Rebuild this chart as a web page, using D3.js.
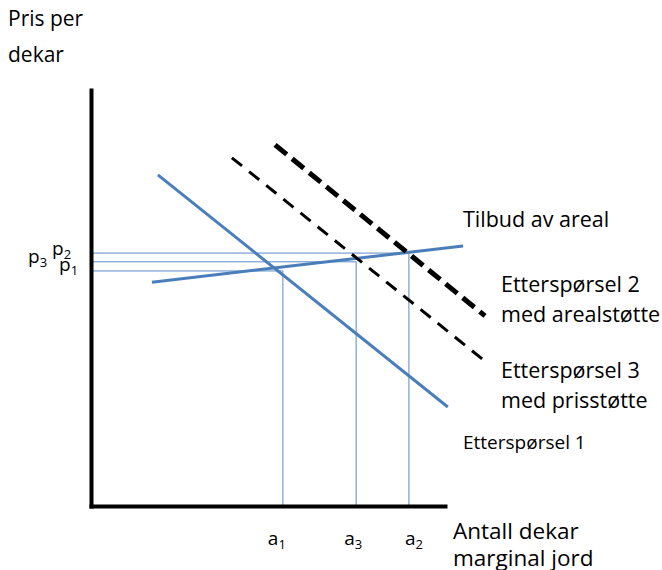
<!DOCTYPE html>
<html>
<head>
<meta charset="utf-8">
<script src="https://cdn.jsdelivr.net/npm/d3@7"></script>
<style>
  body { margin: 0; background: #fff; }
  svg text { font-family: "Open Sans", sans-serif; fill: #000; }
</style>
</head>
<body>
<div class="main"></div>
<script>
//canvas config
var W = 662, H = 570;
var plot = {left: 91, right: 445, top: 90, bottom: 506};

//curves, in chart units (0-100 on both axes)
var supply  = [{x: 17.2, y: 53.8}, {x: 105.1, y: 62.5}];
var demand1 = [{x: 18.9, y: 79.6}, {x: 100.8, y: 23.8}];
var demand3 = [{x: 39.8, y: 83.7}, {x: 111.6, y: 34.6}];
var demand2 = [{x: 52.0, y: 86.8}, {x: 111.3, y: 45.7}];

//equilibrium prices and quantities (order: 1, 3, 2)
var pNames = ["1", "3", "2"];
var pValues = [56.5, 58.7, 60.8];
var aValues = [54.2, 74.9, 89.8];

var xScale = d3.scaleLinear().domain([0, 100]).range([plot.left, plot.right]);
var yScale = d3.scaleLinear().domain([0, 100]).range([plot.bottom, plot.top]);

var svg = d3.select(".main")
	.append("svg")
	.attr("width", W)
	.attr("height", H);

var lineFunc = d3.line()
	.x(function(d) { return xScale(d.x) })
	.y(function(d) { return yScale(d.y) });

//guide lines (drawn first so the curves sit on top)
var guides = svg.append("g").attr("class", "guides");
pValues.forEach(function(p, i) {
	guides.append("line")
		.attr("x1", xScale(0)).attr("x2", xScale(aValues[i]))
		.attr("y1", yScale(p)).attr("y2", yScale(p));
	guides.append("line")
		.attr("x1", xScale(aValues[i])).attr("x2", xScale(aValues[i]))
		.attr("y1", yScale(0)).attr("y2", yScale(p));
});
guides.selectAll("line")
	.style("stroke", "#5b8ac6")
	.style("stroke-width", 1);

//axes, no ticks
var xAxis = d3.axisBottom(xScale).tickValues([]).tickSizeOuter(0);
var yAxis = d3.axisLeft(yScale).tickValues([]).tickSizeOuter(0);
svg.append("g")
	.attr("class", "x-axis")
	.attr("transform", "translate(0," + plot.bottom + ")")
	.call(xAxis);
svg.append("g")
	.attr("class", "y-axis")
	.attr("transform", "translate(" + plot.left + ",0)")
	.call(yAxis);
svg.selectAll(".x-axis path, .y-axis path")
	.style("stroke", "#000")
	.style("stroke-width", 4)
	.style("stroke-linecap", "square");

//curves
svg.append("path").attr("d", lineFunc(supply))
	.attr("fill", "none").attr("stroke", "#4a7ebb").attr("stroke-width", 3);
svg.append("path").attr("d", lineFunc(demand1))
	.attr("fill", "none").attr("stroke", "#4a7ebb").attr("stroke-width", 3);
svg.append("path").attr("d", lineFunc(demand3))
	.attr("fill", "none").attr("stroke", "#000").attr("stroke-width", 3)
	.attr("stroke-dasharray", "13,9");
svg.append("path").attr("d", lineFunc(demand2))
	.attr("fill", "none").attr("stroke", "#000").attr("stroke-width", 5)
	.attr("stroke-dasharray", "15,7");

//plain text labels
function addLabel(x, y, lines, size, gap) {
	var t = svg.append("text")
		.attr("x", x).attr("y", y)
		.style("font-size", size + "px");
	lines.forEach(function(s, i) {
		t.append("tspan").attr("x", x).attr("dy", i == 0 ? 0 : gap).text(s);
	});
}
addLabel(8, 26, ["Pris per", "dekar"], 21, 36);
addLabel(463, 227, ["Tilbud av areal"], 21.5, 0);
addLabel(501, 292, ["Etterspørsel 2", "med arealstøtte"], 21.5, 30);
addLabel(501, 378, ["Etterspørsel 3", "med prisstøtte"], 21.5, 30);
addLabel(463, 449, ["Etterspørsel 1"], 19, 0);
addLabel(453, 539, ["Antall dekar", "marginal jord"], 22.5, 27);

//subscripted labels: p on the price axis, a on the quantity axis
function subLabel(x, y, base, sub) {
	var t = svg.append("text")
		.attr("x", x).attr("y", y)
		.style("font-size", "19px");
	t.append("tspan").text(base);
	t.append("tspan").attr("dy", 4).style("font-size", "13px").text(sub);
}
var pLabelX = [59, 28, 52];
var pLabelDy = [0, 1, 2];
pValues.forEach(function(p, i) {
	subLabel(pLabelX[i], yScale(p) + pLabelDy[i], "p", pNames[i]);
});
var aLabelDx = [-15, -12, -4];
aValues.forEach(function(a, i) {
	subLabel(xScale(a) + aLabelDx[i], 545, "a", pNames[i]);
});
</script>
</body>
</html>
